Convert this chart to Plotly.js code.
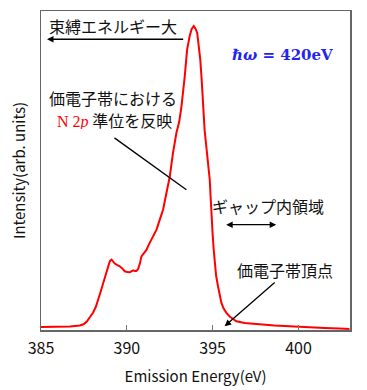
<!DOCTYPE html>
<html>
<head>
<meta charset="utf-8">
<script src="https://cdn.plot.ly/plotly-3.0.1.min.js"></script>
<style>html,body{margin:0;padding:0;background:#fff;}#chart{width:367px;height:390px;}</style>
</head>
<body>
<div id="chart"></div>
<script>
// Emission energy (eV)
const energy = [385.00,385.52,386.10,386.69,386.98,387.27,387.50,387.67,387.79,387.91,
  388.04,388.20,388.31,388.46,388.60,388.72,388.82,388.92,389.01,389.11,
  389.19,389.30,389.45,389.59,389.74,389.88,390.03,390.17,390.29,390.37,
  390.47,390.55,390.66,390.76,390.85,390.99,391.15,391.28,391.44,391.57,
  391.73,391.92,392.11,392.31,392.50,392.69,392.89,393.05,393.18,393.37,
  393.51,393.66,393.78,393.90,394.01,394.10,394.19,394.28,394.36,394.45,
  394.53,394.65,394.77,394.83,394.88,394.92,395.00,395.06,395.12,395.20,
  395.31,395.41,395.51,395.64,395.80,395.99,396.38,396.86,397.44,397.92,
  398.60,399.19,399.87,400.64,401.51,402.38,402.97];
// Intensity (arb. units)
const intensity = [3,3,3,3.5,4,4.5,6,8.5,11.5,14.5,
  17.5,23.5,28.8,37.5,45.5,52.5,58.8,65.5,69,70.5,
  69,66.5,65,63.8,61.5,58.8,58,57.8,59,59.8,
  59,59,61.2,66.5,73.8,77.5,80.5,85.5,90.5,95.5,
  100.5,110.5,120.5,137.5,153.5,177.5,197.5,208.5,223.5,253.5,
  280.5,294.5,301.5,304.5,301.5,297.5,285.5,270.5,250.5,225.5,
  200.5,180.5,162.5,150.5,133.5,117.5,95.5,80.5,67.5,54.5,
  43.8,34.5,27.2,21.5,17.2,13.5,8.8,7,6,5.5,
  4.5,4,3.2,2.5,2,1.5,1];
const tickValues = [385, 390, 395, 400];
const tickLabels = ['385', '390', '395', '400'];

const jp = '"Noto Sans CJK JP", "Noto Sans", sans-serif';
const txt = (x, y, text, extra) => Object.assign({x: x, y: y, xref: 'x', yref: 'y', text: text,
  showarrow: false, xanchor: 'center', yanchor: 'middle', font: {family: jp, size: 16, color: '#111'}}, extra || {});
const arr = (x, y, ax, ay, extra) => Object.assign({x: x, y: y, ax: ax, ay: ay, xref: 'x', yref: 'y',
  axref: 'x', ayref: 'y', text: '', showarrow: true, arrowhead: 2, arrowsize: 1, arrowwidth: 1.3,
  arrowcolor: '#000', standoff: 0, startstandoff: 0}, extra || {});

const layout = {
  width: 367, height: 390,
  margin: {l: 41, r: 17, t: 11, b: 60},
  paper_bgcolor: '#fff', plot_bgcolor: '#fff',
  showlegend: false,
  xaxis: {
    range: [385, 403], tickvals: tickValues, ticktext: tickLabels,
    ticks: 'inside', ticklen: 5, tickcolor: '#777', tickwidth: 1,
    showline: true, linecolor: '#666', linewidth: 1.5, mirror: true,
    showgrid: false, zeroline: false, ticklabelstandoff: 3,
    tickfont: {family: jp, size: 16, color: '#111'},
    title: {text: 'Emission Energy(eV)', font: {family: jp, size: 15, color: '#111'}, standoff: 14}
  },
  yaxis: {
    range: [0, 319.5], showticklabels: false, ticks: '',
    showline: true, linecolor: '#666', linewidth: 1.5, mirror: true,
    showgrid: false, zeroline: false,
    title: {text: 'Intensity(arb. units)', font: {family: jp, size: 15, color: '#111'}, standoff: 10}
  },
  annotations: [
    txt(389.21, 304.5, '束縛エネルギー大'),
    arr(385.35, 291.2, 393.37, 291.2),
    txt(399.07, 275.5, '<b><i>ℏω</i> = 420eV</b>', {font: {family: '"DejaVu Serif", serif', size: 15, color: '#2424f0'}}),
    txt(389.21, 232.0, '価電子帯における'),
    txt(389.30, 210.5, '<span style="color:#ff0000;font-family:Liberation Serif">N 2<i>p</i></span> 準位を反映', {height: 18}),
    arr(393.47, 140.5, 389.19, 193.5, {arrowhead: 0}),
    txt(398.20, 124.5, 'ギャップ内領域'),
    arr(398.70, 105.5, 395.70, 105.5, {arrowside: 'end+start'}),
    txt(399.19, 60.5, '価電子帯頂点'),
    arr(395.70, 3.8, 398.70, 48.8)
  ]
};

Plotly.newPlot('chart', [{
  x: energy, y: intensity, type: 'scatter', mode: 'lines',
  line: {color: '#ff0000', width: 2}
}], layout, {staticPlot: true, displayModeBar: false});
</script>
</body>
</html>
